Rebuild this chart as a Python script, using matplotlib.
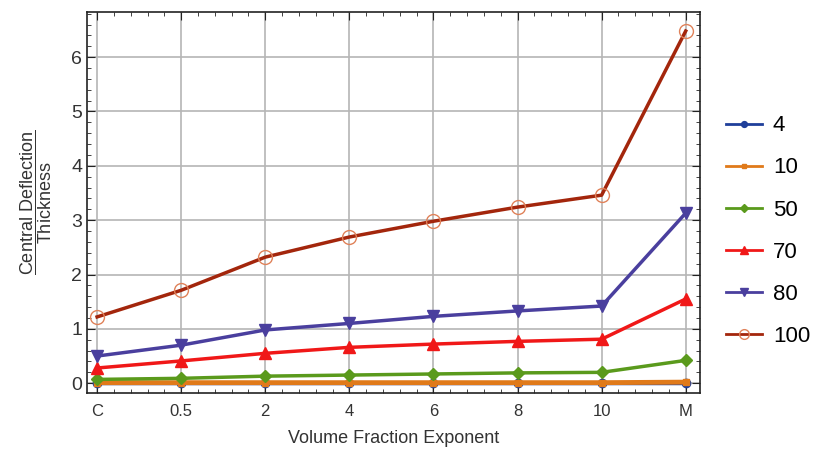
import matplotlib
matplotlib.use("Agg")
import matplotlib.pyplot as plt
from matplotlib.ticker import MultipleLocator

plt.rcParams["font.family"] = ["Liberation Sans", "DejaVu Sans"]
plt.rcParams["mathtext.fontset"] = "custom"
plt.rcParams["mathtext.rm"] = "Liberation Sans"

exponents = ["C", "0.5", "2", "4", "6", "8", "10", "M"]
series_names = ["4", "10", "50", "70", "80", "100"]
defl_4 = [0.00, 0.00, 0.00, 0.00, 0.00, 0.00, 0.00, 0.00]
defl_10 = [0.01, 0.01, 0.01, 0.01, 0.01, 0.01, 0.01, 0.02]
defl_50 = [0.07, 0.09, 0.13, 0.15, 0.17, 0.19, 0.20, 0.42]
defl_70 = [0.28, 0.41, 0.55, 0.66, 0.72, 0.77, 0.81, 1.55]
defl_80 = [0.50, 0.70, 0.98, 1.10, 1.23, 1.33, 1.42, 3.13]
defl_100 = [1.22, 1.71, 2.32, 2.69, 2.98, 3.24, 3.46, 6.48]

styles = [
    dict(color="#1f3f9a", marker="o", ms=6, mfc="#1f3f9a", lw=2.5),
    dict(color="#e07a1a", marker="s", ms=5, mfc="#e07a1a", lw=3.5),
    dict(color="#5a9a1c", marker="D", ms=6, mfc="#5a9a1c", lw=2.5),
    dict(color="#f01818", marker="^", ms=8, mfc="#f01818", lw=2.5),
    dict(color="#4a3f9e", marker="v", ms=8, mfc="#4a3f9e", lw=2.5),
    dict(color="#a3260c", marker="o", ms=10, mfc="none", mec="#e0825a", lw=2.5),
]

fig = plt.figure(figsize=(8.16, 4.55), dpi=100)
ax = fig.add_axes([87 / 816, 1 - 393 / 455, (700 - 87) / 816, (393 - 12) / 455])

x = list(range(len(exponents)))
all_series = [defl_4, defl_10, defl_50, defl_70, defl_80, defl_100]
for name, vals, st in zip(series_names, all_series, styles):
    ax.plot(x, vals, label=name, **st)

ax.set_xlim(-0.12, 7.17)
ax.set_ylim(-0.18, 6.83)
ax.set_xticks(x)
ax.set_xticklabels(exponents, fontsize=12)
ax.xaxis.set_minor_locator(MultipleLocator(0.2))
ax.yaxis.set_major_locator(MultipleLocator(1))
ax.yaxis.set_minor_locator(MultipleLocator(0.2))
ax.tick_params(axis="y", labelsize=14, colors="#333333")
ax.tick_params(axis="x", colors="#333333", pad=8)
ax.tick_params(which="both", direction="in", top=True, right=True, color="#222222")
ax.tick_params(which="major", length=6)
ax.tick_params(which="minor", length=3)
ax.grid(True, which="major", color="#b5b5b5", lw=1.2)
for s in ax.spines.values():
    s.set_color("#222222")
    s.set_linewidth(1.2)

ax.set_xlabel("Volume Fraction Exponent", fontsize=13, color="#333333", labelpad=8)
ax.set_ylabel(r"$\dfrac{\mathrm{Central\ Deflection}}{\mathrm{Thickness}}$",
              fontsize=13, color="#333333", labelpad=12)

leg = ax.legend(loc="center left", bbox_to_anchor=(1.01, 0.425), frameon=False,
                fontsize=16, labelspacing=0.95, handlelength=1.6,
                handletextpad=0.5, markerscale=0.7)
for line in leg.get_lines():
    line.set_linewidth(2.0)

fig.savefig("out.png", dpi=100)
